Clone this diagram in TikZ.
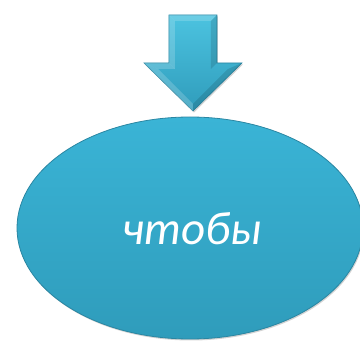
\documentclass[tikz,border=0pt]{standalone}
\usepackage{fontspec}
\setmainfont{Carlito}
\usetikzlibrary{shapes.geometric,shadows}
\definecolor{cyanmain}{HTML}{3AB4D6}
\definecolor{cyandark}{HTML}{2F9CBB}
\definecolor{cyanedge}{HTML}{2A86A2}
\definecolor{cyanlight}{HTML}{4CC3E0}
\tikzset{
  blob/.style={ellipse, top color=cyanmain, bottom color=cyandark, draw=cyanedge, line width=0.8pt,
    drop shadow={shadow xshift=1pt, shadow yshift=-1.5pt, opacity=0.35}},
  arrowbody/.style={top color=cyanlight, bottom color=cyandark, draw=cyanedge, line width=0.6pt,
    drop shadow={shadow xshift=1pt, shadow yshift=-1.5pt, opacity=0.35}},
  bevel/.style={fill=white, fill opacity=0.18, draw=none},
  label/.style={text=white, font=\itshape\fontsize{47}{54}\selectfont, inner sep=0pt}
}
\begin{document}
\begin{tikzpicture}[x=1pt,y=1pt]
\useasboundingbox (0,0) rectangle (360,341);
\begin{scope}
\clip (0,0) rectangle (360,341);
\node[blob, minimum width=346pt, minimum height=222pt, inner sep=0pt] (goal) at (190,113) {};
\end{scope}
\node[label, anchor=base] (word) at (192,96) {чтобы};
\draw[arrowbody] (169,326) coordinate (a1) -- (217,326) -- (217,278) -- (242,278) -- (193,230) coordinate (tip) -- (144,278) -- (169,278) -- cycle;
\fill[bevel] (169,326) -- (217,326) -- (211,320) -- (175,320) -- cycle;
\fill[bevel] (169,326) -- (175,320) -- (175,272) -- (169,278) -- cycle;
\fill[bevel] (144,278) -- (169,278) -- (175,272) -- (158,272) -- cycle;
\fill[bevel] (144,278) -- (158,272) -- (193,237) -- (193,230) -- cycle;
\fill[black, opacity=0.12] (217,326) -- (211,320) -- (211,272) -- (217,278) -- cycle;
\fill[black, opacity=0.12] (242,278) -- (228,272) -- (193,237) -- (193,230) -- cycle;
\end{tikzpicture}
\end{document}
